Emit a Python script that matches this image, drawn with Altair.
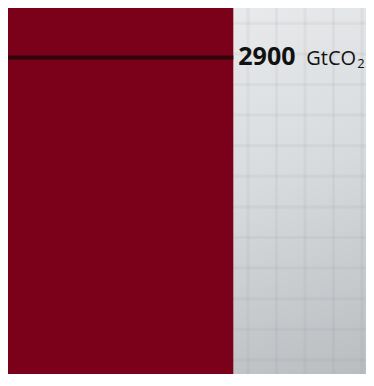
import altair as alt
import pandas as pd

# ---- data ----
categories = ["Carbon budget"]
bar_start = [0]
bar_end = [1]
bar_base = [0]
bar_totals = [3353]          # GtCO2 (bar runs past the bottom of the frame)
budget_values = [2900]       # GtCO2 marker line
label_number = ["2900"]
label_unit = ["GtCO"]
label_sub = ["2"]
grid_cols = list(range(0, 13))
grid_rows = list(range(0, 12))

W, H = 358, 366

bar_df = pd.DataFrame({"item": categories, "start": bar_start, "end": bar_end,
                       "base": bar_base, "total": bar_totals})
line_df = pd.DataFrame({
    "start": bar_start, "end": bar_end, "budget": budget_values,
    "num": label_number, "unit": label_unit, "sub": label_sub,
})

xs = alt.Scale(domain=[0, W / 225.3], zero=False, nice=False, padding=0)
ys = alt.Scale(domain=[0, 3353], zero=False, nice=False, padding=0)

# ---- background gradient ----
bg = alt.Chart(pd.DataFrame({"a": [0]})).mark_rect(
    color=alt.LinearGradient(
        gradient="linear",
        stops=[alt.GradientStop(color="#e8eaec", offset=0),
               alt.GradientStop(color="#d8dbdd", offset=0.45),
               alt.GradientStop(color="#b9bdc0", offset=1)],
        x1=0.62, y1=0, x2=1, y2=1,
    )
).encode(x=alt.value(0), x2=alt.value("width"), y=alt.value(0), y2=alt.value("height"))

# ---- graph-paper grid ----
grid_v = alt.Chart(pd.DataFrame({"col": grid_cols})).mark_rule(
    color="#7d8489", opacity=0.08, strokeWidth=3
).encode(x=alt.X("col:Q", scale=alt.Scale(domain=[-0.42, 12.14], zero=False, nice=False, padding=0), axis=None))

grid_h = alt.Chart(pd.DataFrame({"row": grid_rows})).mark_rule(
    color="#7d8489", opacity=0.08, strokeWidth=3
).encode(y=alt.Y("row:Q", scale=alt.Scale(domain=[-0.5, 11.46], zero=False, nice=False, reverse=True, padding=0), axis=None))

# ---- bar, marker line, label ----
bar = alt.Chart(bar_df).mark_rect(color="#7b0019").encode(
    x=alt.X("start:Q", scale=xs, axis=None),
    x2="end:Q",
    y=alt.Y("total:Q", scale=ys, axis=None),
    y2="base:Q",
)

rule = alt.Chart(line_df).mark_rule(color="#2e060a", strokeWidth=4).encode(
    x=alt.X("start:Q", scale=xs, axis=None),
    x2="end:Q",
    y=alt.Y("budget:Q", scale=ys, axis=None),
)

t_num = alt.Chart(line_df).mark_text(
    align="left", baseline="alphabetic", dx=5, dy=8,
    font="Open Sans", fontWeight="bold", fontSize=25, color="#111111",
).encode(x=alt.X("end:Q", scale=xs, axis=None), y=alt.Y("budget:Q", scale=ys, axis=None), text="num:N")

t_unit = alt.Chart(line_df).mark_text(
    align="left", baseline="alphabetic", dx=73, dy=8,
    font="Open Sans", fontSize=20, color="#111111",
).encode(x=alt.X("end:Q", scale=xs, axis=None), y=alt.Y("budget:Q", scale=ys, axis=None), text="unit:N")

t_sub = alt.Chart(line_df).mark_text(
    align="left", baseline="alphabetic", dx=124, dy=11,
    font="Open Sans", fontSize=13, color="#111111",
).encode(x=alt.X("end:Q", scale=xs, axis=None), y=alt.Y("budget:Q", scale=ys, axis=None), text="sub:N")

main = alt.layer(bar, rule, t_num, t_unit, t_sub)

chart = alt.layer(bg, grid_v, grid_h, main).resolve_scale(
    x="independent", y="independent"
).properties(
    width=W, height=H, padding=0, autosize="none", background="#e6e8ea"
).configure_view(stroke=None)

chart.save("out.html", embed_options={"renderer": "svg", "actions": False})
